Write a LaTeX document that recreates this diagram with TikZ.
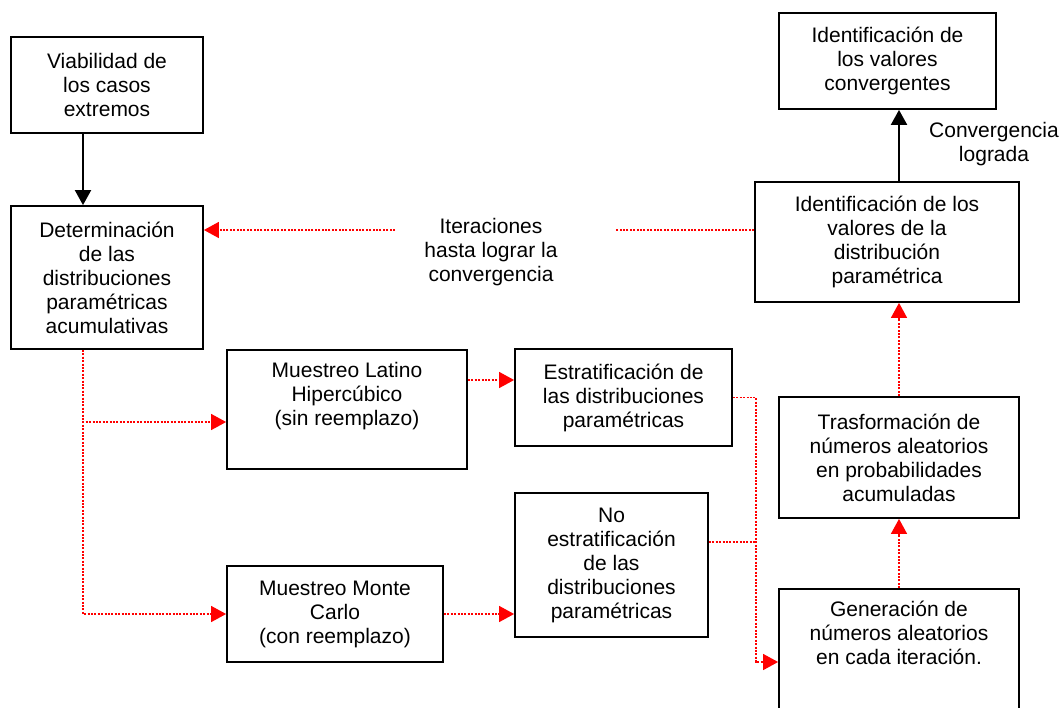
\documentclass[tikz,border=0pt]{standalone}
\usepackage{fontspec}
\setmainfont{Liberation Sans}
\usetikzlibrary{arrows.meta, positioning, calc}
\definecolor{rojoiter}{RGB}{255, 0, 0}
\definecolor{negrocaja}{RGB}{0, 0, 0}

\begin{document}
\begin{tikzpicture}[x=1pt, y=-1pt,
    caja/.style={draw=negrocaja, line width=1.8pt, inner sep=0pt, align=center, font=\fontsize{21}{24}\selectfont},
    texto/.style={inner sep=0pt, align=center, font=\fontsize{21}{24}\selectfont},
    flecha/.style={draw=negrocaja, line width=2pt, -{Triangle[length=15pt, width=16pt]}},
    iteracion/.style={draw=rojoiter, line width=1.4pt, dash pattern=on 2pt off 1.4pt},
    iterflecha/.style={iteracion, -{Triangle[length=15pt, width=16pt, fill=rojoiter]}}]
    \useasboundingbox (0,0) rectangle (1064,707);
    \clip (0,0) rectangle (1064,707);

    % Cajas de la izquierda
    \node[caja, minimum width=192pt, minimum height=96pt] (viab) at (107,85) {Viabilidad de\\ los casos\\ extremos};
    \node[caja, minimum width=192pt, minimum height=143pt] (deter) at (107,277.5) {Determinación\\ de las\\ distribuciones\\ paramétricas\\ acumulativas};

    % Muestreo
    \node[caja, minimum width=240pt, minimum height=119pt] (latino) at (347,409.5) {Muestreo Latino\\ Hipercúbico\\ (sin reemplazo)\\ \strut};
    \node[caja, minimum width=216pt, minimum height=96pt] (monte) at (335,614) {Muestreo Monte\\ Carlo\\ (con reemplazo)};
    \node[caja, minimum width=217pt, minimum height=97pt] (estrat) at (623.5,397.5) {Estratificación de\\ las distribuciones\\ paramétricas};
    \node[caja, minimum width=193pt, minimum height=144pt] (noestrat) at (611.5,565) {No\\ estratificación\\ de las\\ distribuciones\\ paramétricas};

    % Cajas de la derecha
    \node[caja, minimum width=240pt, minimum height=142pt] (genera) at (899,660) {Generación de\\ números aleatorios\\ en cada iteración.\\ \strut\\ \strut};
    \node[caja, minimum width=240pt, minimum height=121pt] (trans) at (899,457.5) {Trasformación de\\ números aleatorios\\ en probabilidades\\ acumuladas};
    \node[caja, minimum width=264pt, minimum height=120pt] (identdist) at (887,242) {Identificación de los\\ valores de la\\ distribución\\ paramétrica};
    \node[caja, minimum width=217pt, minimum height=96pt] (identconv) at (887.5,61) {Identificación de\\ los valores\\ convergentes};

    % Etiquetas
    \node[texto] (iter) at (491,252) {Iteraciones\\ hasta lograr la\\ convergencia};
    \node[texto] (conv) at (994,144) {Convergencia\\ lograda};
    \coordinate (iterder) at (615,230);
    \coordinate (iterizq) at (395,230);

    % Flechas negras
    \draw[flecha] ([xshift=-24pt]viab.south) -- ([xshift=-24pt]deter.north);
    \draw[flecha] (trans.north |- identdist.north) -- (trans.north |- identconv.south);

    % Iteraciones
    \draw[iteracion] ([yshift=12pt]identdist.west) -- (iterder);
    \draw[iterflecha] (iterizq) -- (iterizq -| deter.east);
    \draw[iterflecha] ([xshift=-24pt]deter.south) |- ([yshift=-12.5pt]latino.west);
    \draw[iterflecha] ([xshift=-24pt]deter.south) |- (monte.west);
    \draw[iterflecha] ([yshift=29.5pt]latino.east) -- ([yshift=29.5pt]latino.east -| estrat.west);
    \draw[iterflecha] (monte.east) -- (monte.east -| noestrat.west);
    \draw[iterflecha] (estrat.east) -- ++(23,0) |- ([yshift=-2pt]genera.west);
    \draw[iteracion] ([yshift=23pt]noestrat.east) -- ++(47,0);
    \draw[iterflecha] (genera.north) -- (trans.south);
    \draw[iterflecha] (trans.north) -- (trans.north |- identdist.south);
\end{tikzpicture}
\end{document}
